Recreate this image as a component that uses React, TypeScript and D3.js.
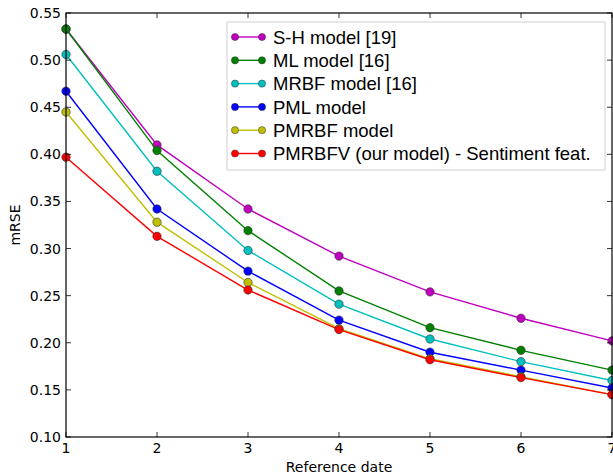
import React from "react";
import * as d3 from "d3";

const dates = [1, 2, 3, 4, 5, 6, 7];
const seriesNames = [
  "S-H model [19]",
  "ML model [16]",
  "MRBF model [16]",
  "PML model",
  "PMRBF model",
  "PMRBFV (our model) - Sentiment feat.",
];
const seriesColors = ["#bf00bf", "#008000", "#00bfbf", "#0000ff", "#bfbf00", "#ff0000"];
const shValues = [0.533, 0.41, 0.342, 0.292, 0.254, 0.226, 0.202];
const mlValues = [0.533, 0.404, 0.319, 0.255, 0.216, 0.192, 0.171];
const mrbfValues = [0.506, 0.382, 0.298, 0.241, 0.204, 0.18, 0.16];
const pmlValues = [0.467, 0.342, 0.276, 0.224, 0.19, 0.171, 0.152];
const pmrbfValues = [0.445, 0.328, 0.264, 0.215, 0.183, 0.164, 0.145];
const pmrbfvValues = [0.397, 0.313, 0.256, 0.214, 0.182, 0.163, 0.145];
const allSeries = [shValues, mlValues, mrbfValues, pmlValues, pmrbfValues, pmrbfvValues];
const yTicks = [0.1, 0.15, 0.2, 0.25, 0.3, 0.35, 0.4, 0.45, 0.5, 0.55];

export default function App() {
  const W = 613;
  const H = 476;
  const left = 66, right = 612, top = 13, bottom = 437;
  const x = d3.scaleLinear().domain([1, 7]).range([left, right]);
  const y = d3.scaleLinear().domain([0.1, 0.55]).range([bottom, top]);
  const line = d3
    .line<number>()
    .x((_, i) => x(dates[i]))
    .y((d) => y(d));
  const tickFont = "DejaVu Sans, sans-serif";
  const legFont = "Liberation Sans, Arial, sans-serif";
  const legRowY = (i: number) => 37 + i * 23.3;

  return (
    <svg
      width={W}
      height={H}
      style={{ position: "fixed", left: 0, top: 0, background: "#fff" }}
    >
      <rect x={0} y={0} width={W} height={H} fill="#fff" />
      <defs>
        <clipPath id="plotclip">
          <rect x={left - 6} y={top - 6} width={right - left + 12} height={bottom - top + 12} />
        </clipPath>
      </defs>
      <g clipPath="url(#plotclip)">
        {allSeries.map((vals, si) => (
          <g key={si}>
            <path d={line(vals) || ""} fill="none" stroke={seriesColors[si]} strokeWidth={1.4} />
            {vals.map((v, i) => (
              <circle
                key={i}
                cx={x(dates[i])}
                cy={y(v)}
                r={4.2}
                fill={seriesColors[si]}
                stroke="#333"
                strokeWidth={0.6}
              />
            ))}
          </g>
        ))}
      </g>
      <rect x={left} y={top} width={right - left} height={bottom - top} fill="none" stroke="#000" strokeWidth={1.2} />
      {yTicks.map((t) => (
        <g key={"y" + t}>
          <line x1={left} x2={left + 5} y1={y(t)} y2={y(t)} stroke="#000" strokeWidth={0.8} />
          <line x1={right} x2={right - 5} y1={y(t)} y2={y(t)} stroke="#000" strokeWidth={0.8} />
          <text
            x={left - 5}
            y={y(t)}
            dy="0.36em"
            textAnchor="end"
            fontFamily={tickFont}
            fontSize={14}
            fill="#000"
          >
            {d3.format(".2f")(t)}
          </text>
        </g>
      ))}
      {dates.map((t) => (
        <g key={"x" + t}>
          <line x1={x(t)} x2={x(t)} y1={bottom} y2={bottom - 5} stroke="#000" strokeWidth={0.8} />
          <line x1={x(t)} x2={x(t)} y1={top} y2={top + 5} stroke="#000" strokeWidth={0.8} />
          <text x={x(t)} y={453} textAnchor="middle" fontFamily={tickFont} fontSize={14} fill="#000">
            {t}
          </text>
        </g>
      ))}
      <text
        x={(left + right) / 2}
        y={472}
        textAnchor="middle"
        fontFamily={tickFont}
        fontSize={14}
        fill="#000"
      >
        Reference date
      </text>
      <text
        transform={`translate(20, ${(top + bottom) / 2}) rotate(-90)`}
        textAnchor="middle"
        fontFamily={tickFont}
        fontSize={14}
        fill="#000"
      >
        mRSE
      </text>
      <rect x={227} y={22} width={378} height={148} fill="#fff" stroke="#d0d0d0" strokeWidth={1} />
      {seriesNames.map((name, i) => (
        <g key={name}>
          <line x1={235} x2={262} y1={legRowY(i)} y2={legRowY(i)} stroke={seriesColors[i]} strokeWidth={1.4} />
          <circle cx={235} cy={legRowY(i)} r={3.6} fill={seriesColors[i]} stroke="#333" strokeWidth={0.5} />
          <circle cx={262} cy={legRowY(i)} r={3.6} fill={seriesColors[i]} stroke="#333" strokeWidth={0.5} />
          <text
            x={273}
            y={legRowY(i)}
            dy="0.36em"
            fontFamily={legFont}
            fontSize={18.5}
            fill="#000"
          >
            {name}
          </text>
        </g>
      ))}
    </svg>
  );
}
